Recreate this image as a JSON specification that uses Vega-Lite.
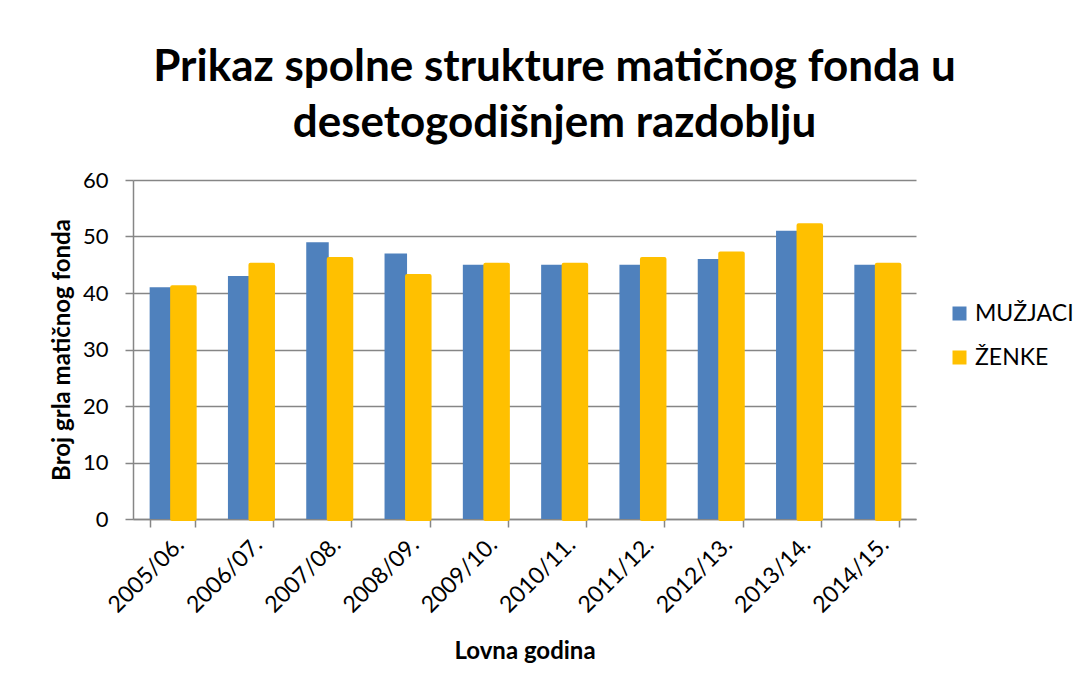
{
  "$schema": "https://vega.github.io/schema/vega-lite/v6.json",
  "width": 783,
  "height": 339,
  "autosize": {"type": "none"},
  "padding": {"left": 133, "top": 180, "right": 172, "bottom": 170},
  "background": "white",
  "title": {
    "text": ["Prikaz spolne strukture matičnog fonda u", "desetogodišnjem razdoblju"],
    "font": "Lato",
    "fontSize": 44,
    "fontWeight": "bold",
    "color": "#000000",
    "anchor": "middle",
    "dx": 30,
    "lineHeight": 56,
    "offset": 23
  },
  "data": {
    "values": [
      {"godina": "2005/06.", "spol": "MUŽJACI", "broj": 41},
      {"godina": "2005/06.", "spol": "ŽENKE", "broj": 41},
      {"godina": "2006/07.", "spol": "MUŽJACI", "broj": 43},
      {"godina": "2006/07.", "spol": "ŽENKE", "broj": 45},
      {"godina": "2007/08.", "spol": "MUŽJACI", "broj": 49},
      {"godina": "2007/08.", "spol": "ŽENKE", "broj": 46},
      {"godina": "2008/09.", "spol": "MUŽJACI", "broj": 47},
      {"godina": "2008/09.", "spol": "ŽENKE", "broj": 43},
      {"godina": "2009/10.", "spol": "MUŽJACI", "broj": 45},
      {"godina": "2009/10.", "spol": "ŽENKE", "broj": 45},
      {"godina": "2010/11.", "spol": "MUŽJACI", "broj": 45},
      {"godina": "2010/11.", "spol": "ŽENKE", "broj": 45},
      {"godina": "2011/12.", "spol": "MUŽJACI", "broj": 45},
      {"godina": "2011/12.", "spol": "ŽENKE", "broj": 46},
      {"godina": "2012/13.", "spol": "MUŽJACI", "broj": 46},
      {"godina": "2012/13.", "spol": "ŽENKE", "broj": 47},
      {"godina": "2013/14.", "spol": "MUŽJACI", "broj": 51},
      {"godina": "2013/14.", "spol": "ŽENKE", "broj": 52},
      {"godina": "2014/15.", "spol": "MUŽJACI", "broj": 45},
      {"godina": "2014/15.", "spol": "ŽENKE", "broj": 45}
    ]
  },
  "mark": {"type": "bar", "stroke": "#FFC000", "strokeJoin": "round"},
  "encoding": {
    "x": {
      "field": "godina",
      "type": "nominal",
      "sort": null,
      "scale": {"paddingInner": 0.425, "paddingOuter": 0.2125},
      "axis": {
        "title": "Lovna godina",
        "titleFont": "Lato",
        "titleFontSize": 24,
        "titleFontWeight": "bold",
        "titleColor": "#000000",
        "titlePadding": 22,
        "labelAngle": -45,
        "labelFont": "Lato",
        "labelFontSize": 23,
        "labelColor": "#000000",
        "labelPadding": 6,
        "tickBand": "extent",
        "tickSize": 8,
        "tickColor": "#868686",
        "tickWidth": 1.5,
        "domainColor": "#868686",
        "domainWidth": 1.5
      }
    },
    "xOffset": {
      "field": "spol",
      "type": "nominal",
      "sort": ["MUŽJACI", "ŽENKE"],
      "scale": {"paddingInner": 0, "paddingOuter": 0}
    },
    "y": {
      "field": "broj",
      "type": "quantitative",
      "scale": {"domain": [0, 60], "nice": false},
      "axis": {
        "values": [0, 10, 20, 30, 40, 50, 60],
        "title": "Broj grla matičnog fonda",
        "titleFont": "Lato",
        "titleFontSize": 24,
        "titleFontWeight": "bold",
        "titleColor": "#000000",
        "titlePadding": 8,
        "labelFont": "Lato",
        "labelFontSize": 22,
        "labelColor": "#000000",
        "labelPadding": 17,
        "tickSize": 8,
        "tickColor": "#868686",
        "tickWidth": 1.5,
        "domainColor": "#868686",
        "domainWidth": 1.5,
        "grid": true,
        "gridColor": "#868686",
        "gridWidth": 1.5
      }
    },
    "color": {
      "field": "spol",
      "type": "nominal",
      "scale": {"domain": ["MUŽJACI", "ŽENKE"], "range": ["#4F81BD", "#FFC000"]},
      "legend": {
        "title": null,
        "orient": "none",
        "legendX": 815,
        "legendY": 122,
        "symbolType": "square",
        "symbolSize": 196,
        "symbolStrokeWidth": 0,
        "labelFont": "Lato",
        "labelFontSize": 23,
        "labelColor": "#000000",
        "labelOffset": 4,
        "rowPadding": 20
      }
    },
    "strokeWidth": {
      "condition": {"test": "datum.spol === 'ŽENKE'", "value": 4},
      "value": 0
    }
  },
  "config": {
    "view": {"stroke": null},
    "axis": {"gridDash": []}
  }
}
